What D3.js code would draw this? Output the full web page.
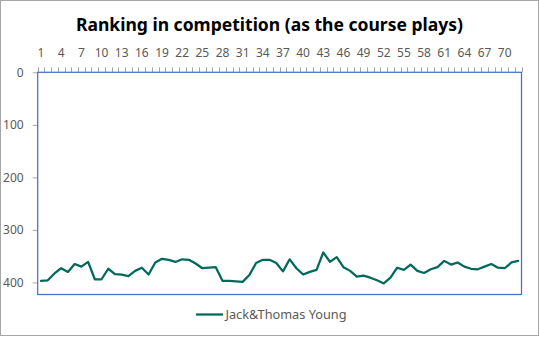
<!DOCTYPE html>
<html><head><meta charset="utf-8">
<script src="https://cdn.jsdelivr.net/npm/d3@7"></script>
<style>html,body{margin:0;padding:0;background:#fff;}svg{display:block;}</style>
</head><body>
<svg id="chart" width="540" height="337"></svg>
<script>
const title = "Ranking in competition (as the course plays)";
const seriesName = "Jack&Thomas Young";
const rounds = d3.range(1, 73);
const ranking = [397,396,383,373,380,365,370,361,394,394,
                 374,384,385,388,378,372,385,362,355,357,
                 361,356,357,364,373,372,371,397,397,398,
                 399,386,363,357,357,363,379,356,373,385,
                 380,376,343,361,352,371,378,389,387,391,
                 396,402,391,372,376,366,378,382,375,371,
                 359,366,362,370,374,375,370,365,372,373,
                 362,359];
const xTickLabels = d3.range(1, 71, 3);
const yTicks = [0, 100, 200, 300, 400];
const yMax = 423;

const font = "'Noto Sans', 'Open Sans', sans-serif";
const svg = d3.select("#chart");
const M = {left: 37.7, right: 521.5, top: 72.3, bottom: 294.5};

// outer border
svg.append("rect").attr("x", 0.5).attr("y", 0.5).attr("width", 538).attr("height", 335)
  .attr("fill", "#fff").attr("stroke", "#a6a6a6").attr("stroke-width", 1);

const x = d3.scaleBand().domain(rounds).range([M.left, M.right]).padding(0);
const y = d3.scaleLinear().domain([0, yMax]).range([M.top, M.bottom]);

// title
svg.append("text").attr("x", 269.5).attr("y", 31).attr("text-anchor", "middle")
  .attr("font-family", font).attr("font-weight", "bold").attr("font-size", 18.5)
  .attr("fill", "#000").attr("textLength", 387).attr("lengthAdjust", "spacingAndGlyphs")
  .text(title);

// top category axis
const xAxis = d3.axisTop(x).tickSize(0).tickFormat(d => xTickLabels.includes(d) ? d : "");
const gx = svg.append("g").attr("transform", `translate(0,${M.top})`).call(xAxis);
gx.select(".domain").remove();
gx.selectAll("text").attr("font-family", font).attr("font-size", 12).attr("fill", "#595959")
  .attr("dy", 0).attr("y", -15);
// tick marks at category boundaries
const bounds = rounds.map(r => x(r)).concat([M.right]);
svg.append("g").selectAll("line").data(bounds).join("line")
  .attr("x1", d => Math.round(d) + 0.5).attr("x2", d => Math.round(d) + 0.5)
  .attr("y1", M.top).attr("y2", M.top - 5)
  .attr("stroke", "#a6a6a6").attr("stroke-width", 1);

// left value axis
const yAxis = d3.axisLeft(y).tickValues(yTicks).tickSize(5).tickPadding(9);
const gy = svg.append("g").attr("transform", `translate(${M.left},0)`).call(yAxis);
gy.select(".domain").remove();
gy.selectAll("line").attr("stroke", "#a6a6a6");
gy.selectAll("text").attr("font-family", font).attr("font-size", 12).attr("fill", "#595959");

// plot border
svg.append("rect").attr("x", M.left).attr("y", M.top)
  .attr("width", M.right - M.left).attr("height", M.bottom - M.top)
  .attr("fill", "none").attr("stroke", "#4472c4").attr("stroke-width", 1.25);

// line
const line = d3.line().x((d, i) => x(rounds[i]) + x.bandwidth() / 2).y(d => y(d));
svg.append("path").datum(ranking).attr("d", line)
  .attr("fill", "none").attr("stroke", "#00695c").attr("stroke-width", 2.25)
  .attr("stroke-linejoin", "round").attr("stroke-linecap", "round");

// legend
svg.append("line").attr("x1", 196).attr("x2", 223).attr("y1", 314.5).attr("y2", 314.5)
  .attr("stroke", "#00695c").attr("stroke-width", 2.25);
svg.append("text").attr("x", 225.5).attr("y", 319).attr("font-family", font).attr("font-size", 12.5)
  .attr("fill", "#595959").attr("textLength", 121).attr("lengthAdjust", "spacingAndGlyphs")
  .text(seriesName);
</script>
</body></html>
